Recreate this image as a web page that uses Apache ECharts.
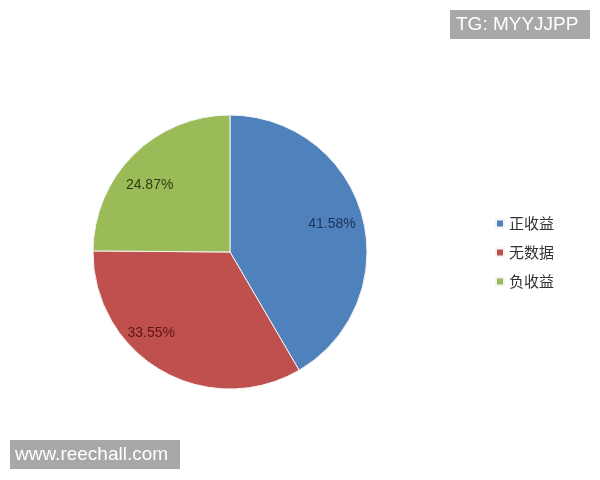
<!DOCTYPE html>
<html lang="zh">
<head>
    <meta charset="UTF-8">
    <title>收益分布</title>
    <style>
        * {
            padding: 0;
            margin: 0;
        }

        #chart {
            width: 600px;
            height: 480px;
            background: #fff;
        }
    </style>
    <script src="https://cdn.jsdelivr.net/npm/echarts@6.0.0/dist/echarts.min.js"></script>
</head>
<body>
<div id="chart"></div>
<script>
    const categories = ['正收益', '无数据', '负收益']
    const shares = [41.58, 33.55, 24.87]
    const colors = ['#4f81bd', '#c0504d', '#9bbb59']
    const labelColors = ['#1c3358', '#5e1614', '#2e3d15']
    // nudge labels to where Excel put them
    const labelShift = [[33, -9], [-43, 19], [-30, -16]]

    let chart = echarts.init(document.getElementById('chart'))
    let option = {
        backgroundColor: '#fff',
        animation: false,
        legend: {
            orient: 'vertical',
            left: 490,
            top: 211,
            itemWidth: 8,
            itemHeight: 8,
            itemGap: 14,
            icon: 'rect',
            textStyle: {
                fontSize: 15,
                color: '#333',
                fontFamily: 'Noto Sans CJK SC'
            },
            data: categories
        },
        graphic: [
            {
                type: 'rect',
                left: 450,
                top: 10,
                shape: {width: 140, height: 29},
                style: {fill: '#a8a8a8'}
            },
            {
                type: 'text',
                left: 456,
                top: 15,
                style: {text: 'TG: MYYJJPP', fill: '#fff', font: '19px "Liberation Sans"'}
            },
            {
                type: 'rect',
                left: 10,
                top: 440,
                shape: {width: 170, height: 29},
                style: {fill: '#a8a8a8'}
            },
            {
                type: 'text',
                left: 15,
                top: 445,
                style: {text: 'www.reechall.com', fill: '#fff', font: '19px "Liberation Sans"'}
            }
        ],
        series: [{
            type: 'pie',
            center: [230, 252],
            radius: 137,
            startAngle: 90,
            clockwise: true,
            itemStyle: {
                borderColor: '#f4f4f4',
                borderWidth: 1
            },
            label: {
                position: 'inside',
                formatter: '{c}%',
                fontSize: 14,
                fontFamily: 'Liberation Sans'
            },
            emphasis: {disabled: true},
            data: categories.map((name, i) => ({
                name: name,
                value: shares[i],
                itemStyle: {color: colors[i]},
                label: {color: labelColors[i], offset: labelShift[i]}
            }))
        }]
    }
    chart.setOption(option)
</script>
</body>
</html>
